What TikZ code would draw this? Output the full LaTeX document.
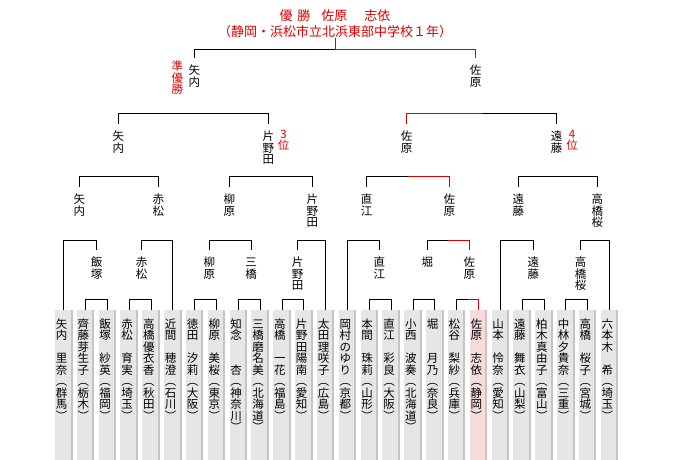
\documentclass[tikz,border=0pt]{standalone}
\usepackage{fontspec}
\setmainfont{Noto Sans CJK JP}
\usetikzlibrary{calc}
\definecolor{winred}{RGB}{221,0,0}
\definecolor{boxgray}{RGB}{230,230,230}
\definecolor{boxedge}{RGB}{196,196,196}
\definecolor{boxpink}{RGB}{245,220,220}
\definecolor{pinkedge}{RGB}{226,186,186}
\makeatletter
\def\tate@loop#1{\ifx\relax#1\else\hbox to 1em{\hss#1\hss\vrule height .88em depth .12em width 0pt}\expandafter\tate@loop\fi}
\def\tate@box#1{\vbox{\offinterlineskip\tate@loop#1\relax}}
\newcommand\tate[1]{\edef\tate@tmp{\noexpand\tate@box{#1}}\tate@tmp}
\def\pname@box#1#2#3{\vbox{\offinterlineskip
  \vbox to 5em{\tate@loop#1\relax\vfill\tate@loop#2\relax\kern0pt}%
  \tate@loop︵#3︶\relax}}
\newcommand\pname[3]{\edef\pname@tmp{\noexpand\pname@box{#1}{#2}{#3}}\pname@tmp}
\makeatother
\newcommand\match[5]{%
  \draw[#4] (#1) |- ($(#1 |- 0,#3)!.5!(#2 |- 0,#3)$);
  \draw[#5] (#2) |- ($(#1 |- 0,#3)!.5!(#2 |- 0,#3)$);}
\tikzset{
  pbox/.style={fill=cur, minimum width=17.5pt, minimum height=150pt, inner sep=0, outer sep=0, anchor=north west},
  ptext/.style={inner sep=0, anchor=north west, font=\fontsize{11.5}{11.5}\selectfont},
  wname/.style={inner sep=0, outer sep=0, outer ysep=6.5pt, anchor=north, font=\fontsize{11.5}{11.5}\selectfont},
  rankmark/.style={inner sep=0, anchor=north, text=winred, font=\fontsize{11.5}{11.5}\selectfont}
}
\begin{document}
\begin{tikzpicture}[x=1pt,y=-1pt,line width=1pt]
  \useasboundingbox (0,0) rectangle (680,460);
  \foreach \fam/\giv/\pref [count=\i from 0] in {矢内/里奈/群馬, 齊藤/芽生子/栃木, 飯塚/紗英/福岡, 赤松/育実/埼玉,
      高橋/優衣香/秋田, 近間/穂澄/石川, 徳田/汐莉/大阪, 柳原/美桜/東京, 知念/杏/神奈川, 三橋/磨名美/北海道,
      高橋/一花/福島, 片野田/陽南/愛知, 太田/理咲子/広島, 岡村/のゆり/京都, 本間/珠莉/山形, 直江/彩良/大阪,
      小西/波奏/北海道, 堀/月乃/奈良, 松谷/梨紗/兵庫, 佐原/志依/静岡, 山本/怜奈/愛知, 遠藤/舞衣/山梨,
      柏木/真由子/富山, 中林/夕貴奈/三重, 高橋/桜子/宮城, 六本木/希/埼玉}{
    \ifnum\i=19 \colorlet{cur}{boxpink}\colorlet{curedge}{pinkedge}\else\colorlet{cur}{boxgray}\colorlet{curedge}{boxedge}\fi
    \node[pbox] (p\i) at (55+21.83*\i,310) {};
    \fill[curedge] ([xshift=-2pt]p\i.north east) rectangle (p\i.south east);
    \node[ptext] (n\i) at ([xshift=0.3pt,yshift=-7.5pt]p\i.north west) {\pname{\fam}{\giv}{\pref}};
  }
  \foreach \a/\b in {1/2,3/4,6/7,8/9,10/11,14/15,16/17,21/22,23/24}{\match{p\a.north}{p\b.north}{299}{}{}}
  \match{p18.north}{p19.north}{299}{}{winred}
  \foreach \nm/\lbl/\x in {s1/飯塚/96.7, s2/赤松/141.7, s3/柳原/209.3, s4/三橋/251, s5/片野田/297.7,
      s6/直江/379.3, s7/堀/427.3, s8/佐原/469.3, s9/遠藤/533.3, s10/高橋桜/580.7}
    \node[wname] (\nm) at (\x,250) {\tate{\lbl}};
  \match{p0.north}{s1.north}{240}{}{}
  \match{s2.north}{p5.north}{240}{}{}
  \match{s3.north}{s4.north}{240}{}{}
  \match{s5.north}{p12.north}{240}{}{}
  \match{p13.north}{s6.north}{240}{}{}
  \match{s7.north}{s8.north}{240}{}{winred}
  \match{p20.north}{s9.north}{240}{}{}
  \match{s10.north}{p25.north}{240}{}{}
  \foreach \nm/\lbl/\x in {q1/矢内/79.3, q2/赤松/158.3, q3/柳原/229.3, q4/片野田/312.3,
      q5/直江/366.7, q6/佐原/449.3, q7/遠藤/518.3, q8/高橋桜/597.3}
    \node[wname] (\nm) at (\x,187) {\tate{\lbl}};
  \match{q1.north}{q2.north}{176.7}{}{}
  \match{q3.north}{q4.north}{176.7}{}{}
  \match{q5.north}{q6.north}{176.7}{}{winred}
  \match{q7.north}{q8.north}{176.7}{}{}
  \foreach \nm/\lbl/\x in {f1/矢内/118.3, f2/片野田/268.3, f3/佐原/406.7, f4/遠藤/556.7}
    \node[wname] (\nm) at (\x,124) {\tate{\lbl}};
  \match{f1.north}{f2.north}{113.3}{}{}
  \match{f3.north}{f4.north}{113.3}{winred}{}
  \node[wname] (g1) at (194.3,58) {\tate{矢内}};
  \node[wname] (g2) at (475.7,58) {\tate{佐原}};
  \match{g1.north}{g2.north}{50}{}{winred}
  \node[text=winred, align=center, inner sep=0, anchor=south, font=\fontsize{13}{16}\selectfont] (champ) at (335,38.5)
    {優\hspace{5pt}勝\hspace{11pt}佐原\hspace{17pt}志依\\（静岡・浜松市立北浜東部中学校１年）};
  \draw[winred] (champ.south) -- (champ.south |- 0,50);
  \node[rankmark] (jun) at (177.3,60) {\tate{準優勝}};
  \node[rankmark] (third) at (283.5,127.5) {\tate{3位}};
  \node[rankmark] (fourth) at (572,127.5) {\tate{4位}};
\end{tikzpicture}
\end{document}
